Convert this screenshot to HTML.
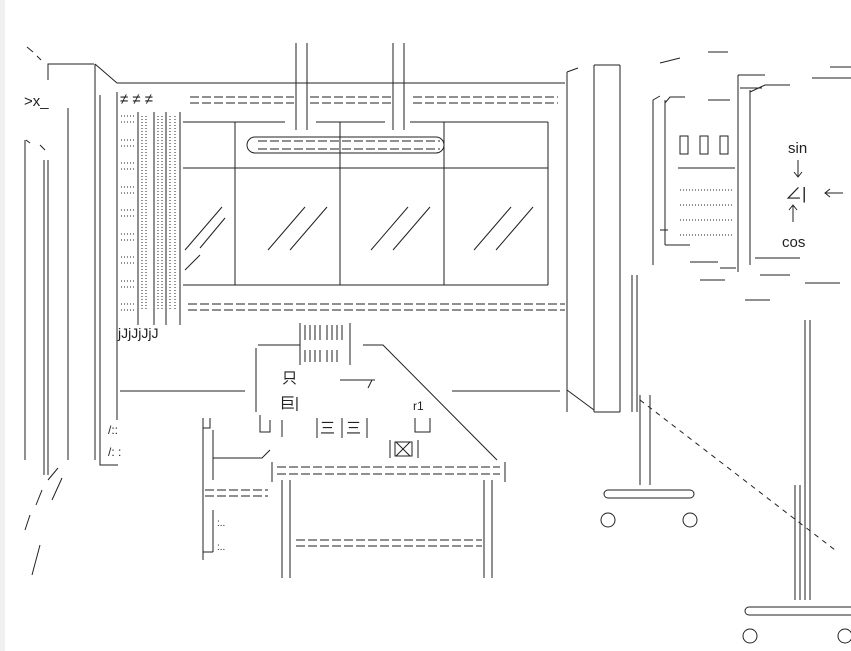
<!DOCTYPE html>
<html><head><meta charset="utf-8"><style>
body{margin:0;background:#fff;width:851px;height:651px;overflow:hidden}
svg{display:block}
text{font-family:"Liberation Sans","Noto Sans CJK JP",sans-serif;fill:#222}
</style></head><body>
<svg width="851" height="651" viewBox="0 0 851 651" xmlns="http://www.w3.org/2000/svg">
<rect x="0" y="0" width="5" height="651" fill="#f0f0f0"/>
<g stroke="#222" stroke-width="1" fill="none">
<path d="M27 47 L33 52 M37 56 L41 60"/>
<path d="M48 80 V64 H94 M95 64 V460 M100 95 V455 M95 64 L117 83 H565"/>
<path d="M68 108 V460 M25 140 V460 M44 160 V475 M48 160 V475"/>
<path d="M26 140 L30 143 M40 145 L45 150"/>
<path d="M42 490 L36 505 M30 515 L25 530 M48 480 L58 468 M62 478 L52 500 M40 545 L32 575"/>
<path d="M117 92 V420 M120 391 H245 M452 391 H560"/>
<path d="M138 112 V325 M154 112 V325 M166 112 V325 M180 112 V325"/>
<g stroke-dasharray="1 2">
<path d="M121 116 H136 M121 122 H136 M121 140 H136 M121 146 H136 M121 163 H136 M121 169 H136 M121 187 H136 M121 193 H136 M121 210 H136 M121 216 H136 M121 234 H136 M121 240 H136 M121 257 H136 M121 263 H136 M121 281 H136 M121 287 H136 M121 304 H136 M121 310 H136"/>
<path d="M142 116 V310 M146 116 V310 M158 116 V310 M162 116 V310 M170 116 V310 M175 116 V310"/>
<path d="M680 190 H732 M680 205 H732 M680 220 H732 M680 235 H732"/>
</g>
<g stroke-dasharray="9 3">
<path d="M190 97 H294 M190 103 H294 M310 97 H391 M310 103 H391 M413 97 H558 M413 103 H558"/>
<path d="M188 304 H565 M188 310 H565"/>
<path d="M258 141 H440 M258 149 H440"/>
<path d="M277 467 H500 M277 474 H500"/>
<path d="M205 490 H268 M205 496 H268"/>
<path d="M296 540 H482 M296 546 H482"/>
</g>
<path d="M296 43 V130 M307 43 V130 M393 43 V130 M404 43 V130"/>
<path d="M183 122 H285 M316 122 H385 M410 122 H548 M183 168 H548 M183 285 H548 M235 122 V285 M340 122 V285 M444 122 V285 M548 122 V285"/>
<rect x="247" y="137" width="197" height="16" rx="8"/>
<path d="M185 250 L222 207 M185 270 L200 255 M200 248 L225 218 M268 250 L305 207 M290 250 L327 207 M371 250 L408 207 M393 250 L430 207 M474 250 L511 207 M496 250 L533 207"/>
<path d="M567 72 V412 M594 65 V412 M620 65 V412 M594 65 H620 M594 412 H620 M567 390 L594 410 M567 72 L578 68"/>
<path d="M632 275 V412 M637 275 V412"/>
<path d="M653 100 V265 M665 100 V245 M665 245 H690 M738 75 V272 M750 90 V265 M738 75 H765 M653 100 L660 96 M665 103 L670 97 H685 M708 100 H730 M750 92 L765 85 H790 M812 78 H851 M830 67 H851 M678 168 H735 M660 230 H668 M690 262 H718 M720 268 H736 M755 258 H800 M760 275 H790 M805 283 H840 M700 280 H725 M745 300 H770"/>
<path d="M660 63 L680 58 M708 52 H728 M740 88 H762"/>
<rect x="680" y="136" width="8" height="18"/><rect x="700" y="136" width="8" height="18"/><rect x="720" y="136" width="8" height="18"/>
<!-- arrows -->
<path d="M798 160 V177 M794 172 L798 177 L802 172"/>
<path d="M793 222 V205 M789 210 L793 205 L797 210"/>
<path d="M843 193 H825 M830 189 L825 193 L830 197"/>
<path d="M805 320 V600 M810 320 V600 M795 485 V600 M800 485 V600 M640 395 V485 M650 395 V485"/>
<path d="M640 400 L835 550" stroke-dasharray="5 5"/>
<rect x="604" y="490" width="90" height="8" rx="4"/>
<circle cx="608" cy="520" r="7"/><circle cx="690" cy="520" r="7"/>
<rect x="745" y="607" width="110" height="8" rx="4"/>
<circle cx="750" cy="636" r="7"/><circle cx="845" cy="636" r="7"/>
<path d="M258 345 H300 M363 345 H383 L497 460 M256 348 V412 M260 415 V432 H270 V420 M300 323 V365 M350 323 V365"/>
<path d="M305 325 V340 M310 325 V340 M315 325 V340 M320 325 V340 M327 325 V340 M332 325 V340 M337 325 V340 M342 325 V340 M305 350 V362 M310 350 V362 M315 350 V362 M320 350 V362 M327 350 V362 M332 350 V362 M337 350 V362"/>
<path d="M340 380 H375 M372 380 L368 388"/>
<path d="M203 418 V560 M213 430 V480 M213 510 V552 M213 458 H262 L270 450 M203 428 H210 V418 M203 552 H213"/>
<path d="M272 462 V482 M505 462 V482 M282 480 V578 M290 480 V578 M484 480 V578 M492 480 V578"/>
<path d="M415 418 V432 H430 V418 M390 440 V458 M418 440 V458 M395 442 H412 V456 H395 Z M396 442 L410 456 M410 442 L396 456"/>
<path d="M317 418 V438 M342 418 V438 M367 418 V438"/>
<path d="M100 455 V465 H118 M282 420 V437"/>
</g>
<g font-size="15">
<text x="24" y="106">&gt;x_</text>
<text x="120" y="104">≠ ≠ ≠</text>
<text x="118" y="338" font-size="14">jJjJjJjJ</text>
<text x="282" y="383">只</text>
<text x="280" y="408">巨|</text>
<text x="320" y="433">三</text><text x="346" y="433">三</text>
<text x="413" y="410" font-size="12">r1</text>
<text x="108" y="434" font-size="12">/::</text>
<text x="108" y="456" font-size="12">/: :</text>
<text x="217" y="526" font-size="10">:..</text>
<text x="217" y="550" font-size="10">:..</text>
<text x="788" y="153">sin</text>
<text x="785" y="199" font-size="17">∠|</text>
<text x="782" y="247">cos</text>
</g>
</svg>
</body></html>
